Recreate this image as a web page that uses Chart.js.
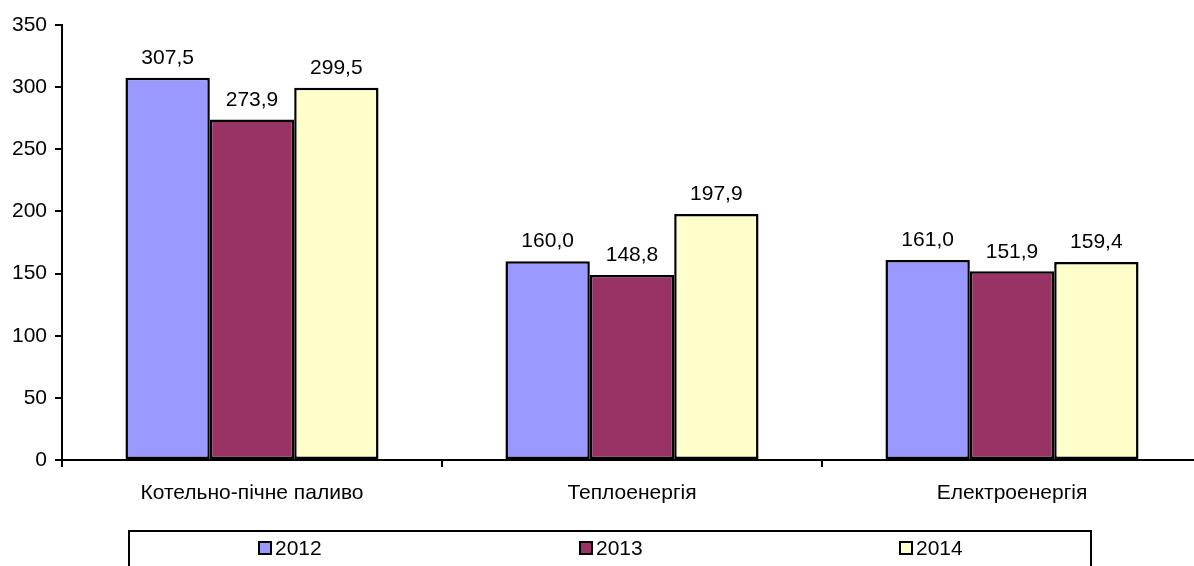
<!DOCTYPE html>
<html>
<head>
<meta charset="utf-8">
<script src="https://cdn.jsdelivr.net/npm/chart.js@4"></script>
<style>
    html, body { margin: 0; padding: 0; background: #fff; overflow: hidden; }
    #wrap { position: relative; width: 1215px; height: 566px; }
</style>
</head>
<body>
<div id="wrap"><canvas id="chart"></canvas></div>
<script>
// ===== Data =====
const categories = ['Котельно-пічне паливо', 'Теплоенергія', 'Електроенергія'];
const years = ['2012', '2013', '2014'];
const values2012 = [307.5, 160.0, 161.0];
const values2013 = [273.9, 148.8, 151.9];
const values2014 = [299.5, 197.9, 159.4];
const yTicks = [0, 50, 100, 150, 200, 250, 300, 350];

const colors = ['#9999FF', '#993366', '#FFFFCC'];
const FONT = 'Liberation Sans, Arial, sans-serif';
const FS = 21;

const fmt = v => v.toFixed(1).replace('.', ',');

// value labels above bars
const valueLabels = {
    id: 'valueLabels',
    afterDatasetsDraw(chart) {
        const ctx = chart.ctx;
        ctx.save();
        ctx.font = FS + 'px ' + FONT;
        ctx.fillStyle = '#000';
        ctx.textAlign = 'center';
        ctx.textBaseline = 'bottom';
        chart.data.datasets.forEach((ds, i) => {
            chart.getDatasetMeta(i).data.forEach((bar, j) => {
                ctx.fillText(fmt(ds.data[j]), bar.x, bar.y - 9);
            });
        });
        ctx.restore();
    }
};

// boxed legend under the chart
const boxLegend = {
    id: 'boxLegend',
    afterDraw(chart) {
        const ctx = chart.ctx;
        const left = 129, right = 1091, top = 531;
        ctx.save();
        ctx.strokeStyle = '#000';
        ctx.lineWidth = 2;
        ctx.strokeRect(left, top, right - left, 60);
        ctx.font = FS + 'px ' + FONT;
        ctx.textBaseline = 'middle';
        ctx.textAlign = 'left';
        const xs = [259, 580, 900];
        chart.data.datasets.forEach((ds, i) => {
            const x = xs[i], y = 548;
            ctx.fillStyle = ds.backgroundColor;
            ctx.fillRect(x, y - 6, 12, 12);
            ctx.lineWidth = 2;
            ctx.strokeRect(x, y - 6, 12, 12);
            ctx.fillStyle = '#000';
            ctx.fillText(ds.label, x + 16, y + 1);
        });
        ctx.restore();
    }
};

new Chart(document.getElementById('chart'), {
    type: 'bar',
    data: {
        labels: categories,
        datasets: [
            { label: years[0], data: values2012, backgroundColor: colors[0] },
            { label: years[1], data: values2013, backgroundColor: colors[1] },
            { label: years[2], data: values2014, backgroundColor: colors[2] }
        ].map(d => Object.assign(d, {
            borderColor: '#000',
            borderWidth: 2.5,
            borderSkipped: false,
            categoryPercentage: 0.666,
            barPercentage: 1.0
        }))
    },
    options: {
        responsive: true,
        maintainAspectRatio: false,
        animation: false,
        layout: { padding: { top: 25, right: 13, bottom: 56, left: 0 } },
        plugins: {
            legend: { display: false },
            tooltip: { enabled: false }
        },
        scales: {
            x: {
                afterFit: s => { s.height = 50; },
                border: { color: '#000', width: 2 },
                grid: { offset: true, drawOnChartArea: false, color: '#000', lineWidth: 2, tickLength: 7 },
                ticks: { color: '#000', font: { family: FONT, size: FS }, padding: 14, maxRotation: 0 }
            },
            y: {
                min: 0,
                max: 350,
                afterFit: s => { s.width = 62; },
                afterBuildTicks: s => { s.ticks = yTicks.map(v => ({ value: v })); },
                border: { color: '#000', width: 2 },
                grid: { drawOnChartArea: false, color: '#000', lineWidth: 2, tickLength: 7 },
                ticks: { color: '#000', font: { family: FONT, size: FS }, padding: 8 }
            }
        }
    },
    plugins: [valueLabels, boxLegend]
});
</script>
</body>
</html>
